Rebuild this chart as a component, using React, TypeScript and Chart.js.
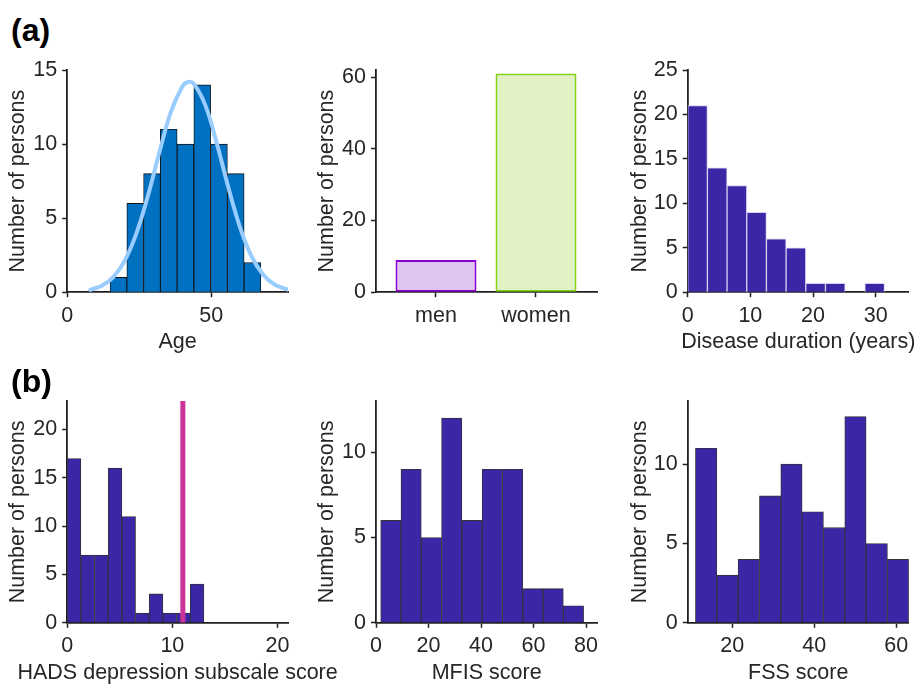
import React, { useEffect, useRef } from 'react';
import { Chart, registerables } from 'chart.js';

Chart.register(...registerables);

// ---------- data ----------
// (a) Age histogram + fitted normal curve
const ageBinCenters = [17.81, 23.63, 29.45, 35.27, 41.09, 46.91, 52.73, 58.55, 64.37];
const ageCounts = [1, 6, 8, 11, 10, 14, 10, 8, 2];
const ageCurveX = [8, 12, 16, 20, 24, 28, 32, 36, 40, 42, 44, 48, 52, 56, 60, 64, 68, 72, 77];
const ageCurveY = [0.16, 0.43, 1.02, 2.13, 3.95, 6.48, 9.43, 12.16, 13.89, 14.19, 14.06, 12.61, 10.02, 7.06, 4.4, 2.43, 1.19, 0.52, 0.15];
const ageXTicks = [0, 50];
const ageYTicks = [0, 5, 10, 15];

// (a) gender
const genderLabels = ['men', 'women'];
const genderCounts = [9, 61];
const genderXTicks = [1, 2];
const genderYTicks = [0, 20, 40, 60];

// (a) disease duration
const durationBinCenters = [1.57, 4.71, 7.85, 10.99, 14.13, 17.27, 20.41, 23.55, 26.69, 29.83];
const durationCounts = [21, 14, 12, 9, 6, 5, 1, 1, 0, 1];
const durationXTicks = [0, 10, 20, 30];
const durationYTicks = [0, 5, 10, 15, 20, 25];

// (b) HADS depression
const hadsBinCenters = [0.65, 1.95, 3.25, 4.55, 5.85, 7.15, 8.45, 9.75, 11.05, 12.35];
const hadsCounts = [17, 7, 7, 16, 11, 1, 3, 1, 1, 4];
const hadsCutoff = 11;
const hadsXTicks = [0, 10, 20];
const hadsYTicks = [0, 5, 10, 15, 20];

// (b) MFIS
const mfisBinCenters = [5.65, 13.38, 21.11, 28.84, 36.57, 44.3, 52.03, 59.76, 67.49, 75.22];
const mfisCounts = [6, 9, 5, 12, 6, 9, 9, 2, 2, 1];
const mfisXTicks = [0, 20, 40, 60, 80];
const mfisYTicks = [0, 5, 10];

// (b) FSS
const fssBinCenters = [13.66, 18.86, 24.06, 29.26, 34.46, 39.66, 44.86, 50.06, 55.26, 60.46];
const fssCounts = [11, 3, 4, 8, 10, 7, 6, 13, 5, 4];
const fssXTicks = [20, 40, 60];
const fssYTicks = [0, 5, 10];

// ---------- style / layout ----------
const FONT = '"Liberation Sans", Arial, Helvetica, sans-serif';
const FS = 21.5;
const TEXT = '#262626';
const AXIS = '#1f1f1f';
const HIST = '#3b27a6';

const COLS = [
  { axL: 67.2, axR: 288, capL: 10, canvasR: 350 },
  { axL: 376, axR: 597.3, capL: 319, canvasR: 610 },
  { axL: 687.7, axR: 908.8, capL: 631.7, canvasR: 918 },
];
const ROWS = [
  { axT: 70, axB: 292.2 },
  { axT: 401, axB: 622.8 },
];
const X_H = 40;

const xTitlePlugin = {
  id: 'xTitle',
  afterDraw(chart: any, _args: any, opts: any) {
    if (!opts || !opts.text) return;
    const { ctx, chartArea } = chart;
    ctx.save();
    ctx.font = `${FS}px ${FONT}`;
    ctx.fillStyle = TEXT;
    ctx.textAlign = 'center';
    ctx.textBaseline = 'alphabetic';
    ctx.fillText(opts.text, (chartArea.left + chartArea.right) / 2, chartArea.bottom + opts.offset);
    ctx.restore();
  },
};

const pts = (xs: number[], ys: number[]) => xs.map((x, i) => ({ x, y: ys[i] }));

type PanelSpec = {
  col: number;
  row: number;
  datasets: any[];
  xMin: number;
  xMax: number;
  xTicks: number[];
  xLabel?: (v: number) => string;
  yMax: number;
  yTicks: number[];
  xTitle?: string;
};

function Panel({ spec }: { spec: PanelSpec }) {
  const ref = useRef<HTMLCanvasElement>(null);
  const c = COLS[spec.col];
  const r = ROWS[spec.row];
  const left = Math.max(0, Math.floor(c.capL - 10));
  const top = Math.floor(r.axT - 18);
  const right = c.canvasR;
  const bottom = spec.row === 1 ? 685 : Math.ceil(r.axB + 64);
  const width = right - left;
  const height = bottom - top;

  useEffect(() => {
    const canvas = ref.current!;
    const yW = c.axL - left;
    const padTop = r.axT - top;
    const padRight = right - c.axR;
    const padBottom = bottom - r.axB - X_H;
    const titlePad = c.capL - left - 4.95;
    const chart = new Chart(canvas, {
      type: 'bar',
      data: { datasets: spec.datasets },
      plugins: [xTitlePlugin as any],
      options: {
        animation: false,
        responsive: false,
        events: [],
        layout: { padding: { left: 0, top: padTop, right: padRight, bottom: padBottom } },
        plugins: {
          legend: { display: false },
          tooltip: { enabled: false },
          xTitle: { text: spec.xTitle, offset: 56 },
        } as any,
        scales: {
          x: {
            type: 'linear',
            min: spec.xMin,
            max: spec.xMax,
            offset: false,
            z: 1,
            afterBuildTicks: (s: any) => {
              s.ticks = spec.xTicks.map((v) => ({ value: v }));
            },
            afterFit: (s: any) => {
              s.height = X_H;
            },
            grid: {
              display: true,
              offset: false,
              drawOnChartArea: false,
              drawTicks: true,
              tickLength: 5,
              tickWidth: 1.5,
              tickColor: AXIS,
              color: AXIS,
            },
            border: { display: true, color: AXIS, width: 1.8 },
            ticks: {
              color: TEXT,
              font: { family: FONT, size: FS },
              padding: 5.5,
              maxRotation: 0,
              autoSkip: false,
              callback: (v: any) => (spec.xLabel ? spec.xLabel(Number(v)) : String(v)),
            },
            title: { display: false },
          },
          y: {
            type: 'linear',
            min: 0,
            max: spec.yMax,
            z: 1,
            afterBuildTicks: (s: any) => {
              s.ticks = spec.yTicks.map((v) => ({ value: v }));
            },
            afterFit: (s: any) => {
              s.width = yW;
            },
            grid: {
              display: true,
              drawOnChartArea: false,
              drawTicks: true,
              tickLength: 5,
              tickWidth: 1.5,
              tickColor: AXIS,
              color: AXIS,
            },
            border: { display: true, color: AXIS, width: 1.8 },
            ticks: {
              color: TEXT,
              font: { family: FONT, size: FS },
              padding: 5,
              autoSkip: false,
              callback: (v: any) => String(v),
            },
            title: {
              display: true,
              text: 'Number of persons',
              color: TEXT,
              font: { family: FONT, size: FS },
              padding: { top: titlePad, bottom: 0 },
            },
          },
        },
      } as any,
    });
    return () => chart.destroy();
  }, []);

  return (
    <canvas
      ref={ref}
      width={width}
      height={height}
      style={{ position: 'absolute', left, top, width, height }}
    />
  );
}

const histBar = (xs: number[], ys: number[], fill: string, edge: string, bw: number) => ({
  type: 'bar',
  data: pts(xs, ys),
  backgroundColor: fill,
  borderColor: edge,
  borderWidth: bw,
  barPercentage: 1,
  categoryPercentage: 1,
  order: 1,
});

const panels: PanelSpec[] = [
  {
    col: 0,
    row: 0,
    datasets: [
      {
        type: 'line',
        data: pts(ageCurveX, ageCurveY),
        borderColor: '#99ccff',
        borderWidth: 4,
        pointRadius: 0,
        tension: 0.4,
        borderCapStyle: 'round',
        order: 0,
      },
      histBar(ageBinCenters, ageCounts, '#0070c0', '#111111', 0.9),
    ],
    xMin: 0,
    xMax: 76.7,
    xTicks: ageXTicks,
    yMax: 15,
    yTicks: ageYTicks,
    xTitle: 'Age',
  },
  {
    col: 1,
    row: 0,
    datasets: [
      {
        type: 'bar',
        data: genderCounts.map((y, i) => ({ x: i + 1, y })),
        backgroundColor: ['#dec4f0', '#e0f1c4'],
        borderColor: ['#8a00d0', '#84d014'],
        borderWidth: 2,
        borderSkipped: false,
        barPercentage: 0.81,
        categoryPercentage: 1,
      },
    ],
    xMin: 0.4,
    xMax: 2.613,
    xTicks: genderXTicks,
    xLabel: (v: number) => genderLabels[v - 1] ?? '',
    yMax: 62,
    yTicks: genderYTicks,
  },
  {
    col: 2,
    row: 0,
    datasets: [histBar(durationBinCenters, durationCounts, HIST, '#d4cfee', 1)],
    xMin: 0,
    xMax: 35.28,
    xTicks: durationXTicks,
    yMax: 25,
    yTicks: durationYTicks,
    xTitle: 'Disease duration (years)',
  },
  {
    col: 0,
    row: 1,
    datasets: [
      {
        type: 'line',
        data: [
          { x: hadsCutoff, y: 0 },
          { x: hadsCutoff, y: 23 },
        ],
        borderColor: '#cc3399',
        borderWidth: 5,
        pointRadius: 0,
        order: 0,
      },
      histBar(hadsBinCenters, hadsCounts, HIST, '#333333', 0.9),
    ],
    xMin: 0,
    xMax: 21,
    xTicks: hadsXTicks,
    yMax: 22.95,
    yTicks: hadsYTicks,
    xTitle: 'HADS depression subscale score',
  },
  {
    col: 1,
    row: 1,
    datasets: [histBar(mfisBinCenters, mfisCounts, HIST, '#333333', 0.9)],
    xMin: 0,
    xMax: 84.3,
    xTicks: mfisXTicks,
    yMax: 13,
    yTicks: mfisYTicks,
    xTitle: 'MFIS score',
  },
  {
    col: 2,
    row: 1,
    datasets: [histBar(fssBinCenters, fssCounts, HIST, '#333333', 0.9)],
    xMin: 9.17,
    xMax: 63.07,
    xTicks: fssXTicks,
    yMax: 13.98,
    yTicks: fssYTicks,
    xTitle: 'FSS score',
  },
];

const labelStyle = (top: number): React.CSSProperties => ({
  position: 'absolute',
  left: 11,
  top,
  fontFamily: FONT,
  fontWeight: 'bold',
  fontSize: 32,
  lineHeight: '32px',
  color: '#000',
  whiteSpace: 'nowrap',
});

export default function App() {
  return (
    <div
      style={{
        position: 'absolute',
        left: 0,
        top: 0,
        width: 918,
        height: 685,
        overflow: 'hidden',
        background: '#ffffff',
      }}
    >
      {panels.map((p, i) => (
        <Panel key={i} spec={p} />
      ))}
      <div style={labelStyle(13.6)}>(a)</div>
      <div style={labelStyle(364.6)}>(b)</div>
    </div>
  );
}
